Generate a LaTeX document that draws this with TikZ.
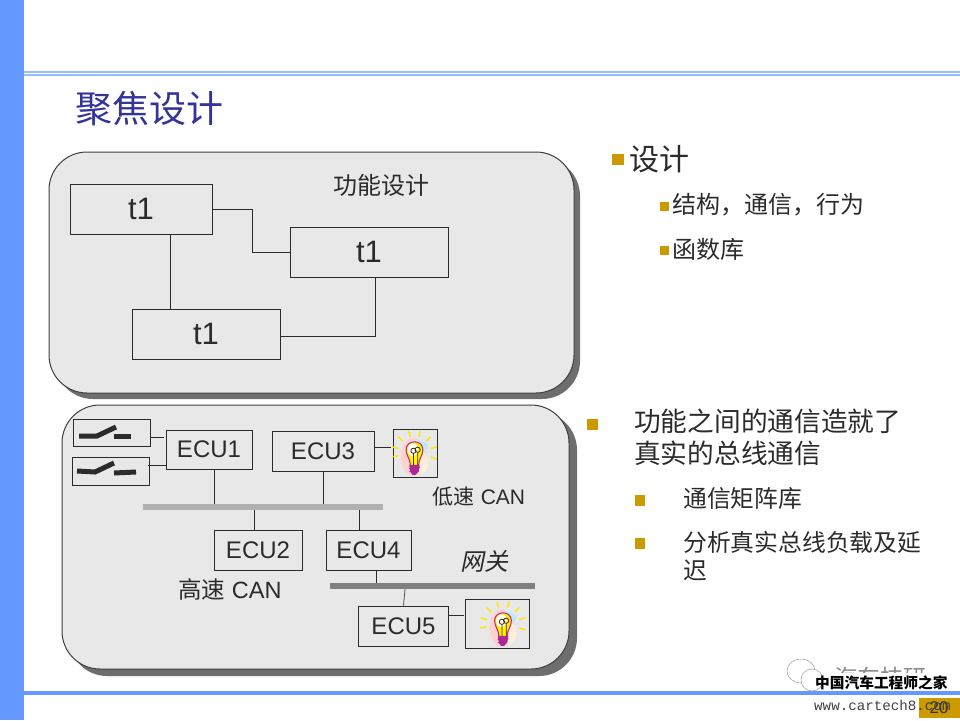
\documentclass[tikz,border=0pt]{standalone}
\usepackage{fontspec}
\setmainfont{Liberation Sans}
\setmonofont{Liberation Mono}
\newfontfamily\cjk{Noto Sans CJK SC}
\newfontfamily\cjkit[FakeSlant=0.2]{Noto Sans CJK SC}
\definecolor{sidebl}{HTML}{6699FF}
\definecolor{ruleb}{HTML}{99BBFF}
\definecolor{titleb}{HTML}{333399}
\definecolor{gold}{HTML}{CC9900}
\definecolor{panel}{HTML}{E8E8E8}
\definecolor{shade}{HTML}{6E6E6E}
\definecolor{ink}{HTML}{2B2B2B}
\tikzset{
  x=1pt,y=-1pt,
  box/.style={draw=ink,line width=0.9pt,fill=none,anchor=center,inner sep=0pt,text=ink},
  tbox/.style={box,font=\fontsize{31}{31}\selectfont},
  ecu/.style={box,font=\fontsize{24}{24}\selectfont},
  wire/.style={draw=ink,line width=0.9pt},
  panelbox/.style={draw=ink!90,line width=1pt,fill=panel,rounded corners=38pt},
  shadebox/.style={fill=shade,rounded corners=38pt},
  lab/.style={text=ink,inner sep=0pt,anchor=west},
  bullet/.style={fill=gold},
  blade/.style={draw=ink,line width=5pt}
}
\newcommand{\bulbat}[3]{%
  \begin{scope}[shift={(#1,#2)},scale=#3]
    \fill[pink!70] (-1,1) ellipse (12 and 18);
    \fill[orange!15] (5,6) ellipse (8 and 11);
    \fill[cyan!25] (3,-9) ellipse (10 and 6);
    \foreach \a in {195,225,255,285,315,345,15,170}
      \draw[yellow!90!orange,line width=1.5pt] (0,-3) ++(\a:16) -- ++(\a:6);
    \draw[magenta!80!black,fill=yellow,line width=1.1pt]
      (-4,9) .. controls (-4,2) and (-8,0) .. (-8,-6)
      .. controls (-8,-16) and (8,-16) .. (8,-6)
      .. controls (8,0) and (4,2) .. (4,9) -- cycle;
    \fill[white] (-1.5,-6) ellipse (5 and 6);
    \draw[black!70!orange,line width=0.8pt] (-1,9) -- (-1,-3) (3,9) -- (3,-3) (-1,-5) circle (2.5) (3,-6) circle (2.5);
    \fill[violet!80] (-5,9) -- (5,9) -- (4,15) -- (1,18) -- (-2,18) -- (-4,15) -- cycle;
    \draw[magenta,line width=0.7pt] (-5,12) -- (5,11) (-5,15) -- (4,14);
  \end{scope}}
\begin{document}
\begin{tikzpicture}
\useasboundingbox (0,0) rectangle (960,720);
\fill[white] (0,0) rectangle (960,720);
% frame
\fill[sidebl] (0,0) rectangle (24,720);
\fill[ruleb] (24,71) rectangle (960,75.5);
\fill[white] (24,73.2) rectangle (960,74);
\fill[sidebl] (24,691) rectangle (960,695);
\fill[sidebl] (0,691) rectangle (24,695);
% title
\node[inner sep=0pt,anchor=west,text=titleb,font=\cjk\fontsize{37}{37}\selectfont] (title) at (75,109) {聚焦设计};
% panels
\fill[shadebox] (55,158) rectangle (580,399);
\draw[panelbox] (49,152) rectangle (574,393);
\fill[shadebox] (69,412) rectangle (577,676);
\draw[panelbox] (62,405) rectangle (569,669);
% top panel
\node[inner sep=0pt,text=ink,font=\cjk\fontsize{24}{24}\selectfont] (func) at (381,185) {功能设计};
\node[tbox,minimum width=142pt,minimum height=50pt] (ta) at (141,209) {t1};
\node[tbox,minimum width=158pt,minimum height=50pt] (tb) at (369,252) {t1};
\node[tbox,minimum width=148pt,minimum height=50pt] (tc) at (206,334) {t1};
\draw[wire] (ta.east |- 0,209) -- (252,209) -- (252,252) -- (tb.west);
\draw[wire] (ta.south -| 170,0) -- (tc.north -| 170,0);
\draw[wire] (tc.east |- 0,336) -- (375,336) -- (tb.south -| 375,0);
% bottom panel
\node[ecu,minimum width=86pt,minimum height=39pt] (e1) at (209,449.5) {ECU1};
\node[ecu,minimum width=102pt,minimum height=40pt] (e3) at (323,451) {ECU3};
\node[ecu,minimum width=88pt,minimum height=40pt] (e2) at (258,550) {ECU2};
\node[ecu,minimum width=85pt,minimum height=40pt] (e4) at (368.5,550) {ECU4};
\node[ecu,minimum width=90pt,minimum height=40pt] (e5) at (403.5,626) {ECU5};
\node[box,minimum width=77pt,minimum height=27pt] (s1) at (111.5,432.5) {};
\node[box,minimum width=77pt,minimum height=28pt] (s2) at (110.5,471) {};
\node[box,minimum width=44pt,minimum height=48pt] (b1) at (415,453) {};
\node[box,minimum width=64pt,minimum height=49pt] (b2) at (497,623.5) {};
\node[minimum width=240pt,minimum height=6pt,inner sep=0pt,fill=black!31] (bus1) at (263,507) {};
\node[minimum width=205pt,minimum height=6pt,inner sep=0pt,fill=black!50] (bus2) at (432.5,586) {};
% switches
\draw[blade] (79,436) -- (97,436) -- (116,427);
\draw[blade] (114,436) -- (131,436);
\draw[blade] (77,471) -- (95,472) -- (114,463);
\draw[blade] (114,473) -- (136,472);
% wires
\draw[wire] (s1.east |- 0,437) -- (164,437);
\draw[wire] (148,465.5) -- (e1.west |- 0,465.5);
\draw[wire] (e1.south -| 214,0) -- (bus1.north -| 214,0);
\draw[wire] (e3.south -| 323,0) -- (bus1.north -| 323,0);
\draw[wire] (bus1.south -| 254,0) -- (e2.north -| 254,0);
\draw[wire] (bus1.south -| 359,0) -- (e4.north -| 359,0);
\draw[wire] (e4.south -| 376,0) -- (bus2.north -| 376,0);
\draw[wire,draw=ink!75] (e5.north) -- (bus2.south -| 405,0);
\draw[wire] (e5.east |- 0,615) -- (464,615);
\draw[wire] (e3.east |- 0,447) -- (391,447);
% bulbs
\bulbat{414.5}{456}{1.05}
\bulbat{503}{627}{1.05}
% bottom labels
\node[inner sep=0pt,text=ink,font=\fontsize{21}{21}\selectfont] (low) at (479,497) {{\cjk 低速} CAN};
\node[inner sep=0pt,text=ink,font=\fontsize{23.5}{24}\selectfont] (high) at (230,590) {{\cjk 高速} CAN};
\node[inner sep=0pt,text=ink,font=\cjkit\fontsize{24}{24}\selectfont] (gw) at (484,561) {网关};
% right text
\fill[bullet] (612,154) rectangle (624,165);
\node[lab,font=\cjk\fontsize{30}{30}\selectfont] (r1) at (629,159) {设计};
\fill[bullet] (660,202) rectangle (669,211);
\node[lab,font=\cjk\fontsize{24}{24}\selectfont] (r2) at (672,205) {结构，通信，行为};
\fill[bullet] (660,246) rectangle (669,255);
\node[lab,font=\cjk\fontsize{24}{24}\selectfont] (r3) at (672,249) {函数库};
\fill[bullet] (587,419) rectangle (598,430);
\node[lab,font=\cjk\fontsize{26.7}{27}\selectfont] (r4) at (634,421) {功能之间的通信造就了};
\node[lab,font=\cjk\fontsize{26.7}{27}\selectfont] (r5) at (634,453) {真实的总线通信};
\fill[bullet] (635,495) rectangle (645,506);
\node[lab,font=\cjk\fontsize{23.8}{24}\selectfont] (r6) at (683,499) {通信矩阵库};
\fill[bullet] (635,538) rectangle (645,549);
\node[lab,font=\cjk\fontsize{23.8}{24}\selectfont] (r7) at (683,542) {分析真实总线负载及延};
\node[lab,font=\cjk\fontsize{23.8}{24}\selectfont] (r8) at (683,570) {迟};
% watermark and page number
\fill[gold] (919,698) rectangle (960,718);
\node[inner sep=0pt,text=black!80,font=\fontsize{17}{17}\selectfont] (pg) at (939,708) {20};
\node[inner sep=0pt,text=black!45,anchor=west,font=\cjk\fontsize{23}{23}\selectfont] (wm) at (834,678) {汽车技研};
\fill[white] (815,673) rectangle (950,691);
\fill[sidebl] (815,691) rectangle (950,695);
\draw[black!35,fill=white,line width=0.6pt] (801,671) ellipse (14 and 12);
\draw[black!35,fill=white,line width=0.6pt] (812,680) ellipse (11 and 11);
\node[inner sep=0pt,anchor=west,text=black,font=\cjk\bfseries\fontsize{14.7}{15}\selectfont] (wm2) at (815,683) {中国汽车工程师之家};
\node[inner sep=0pt,anchor=west,text=black!75,font=\ttfamily\fontsize{14.2}{15}\selectfont] (wm3) at (814,705) {www.cartech8.com};
\end{tikzpicture}
\end{document}
